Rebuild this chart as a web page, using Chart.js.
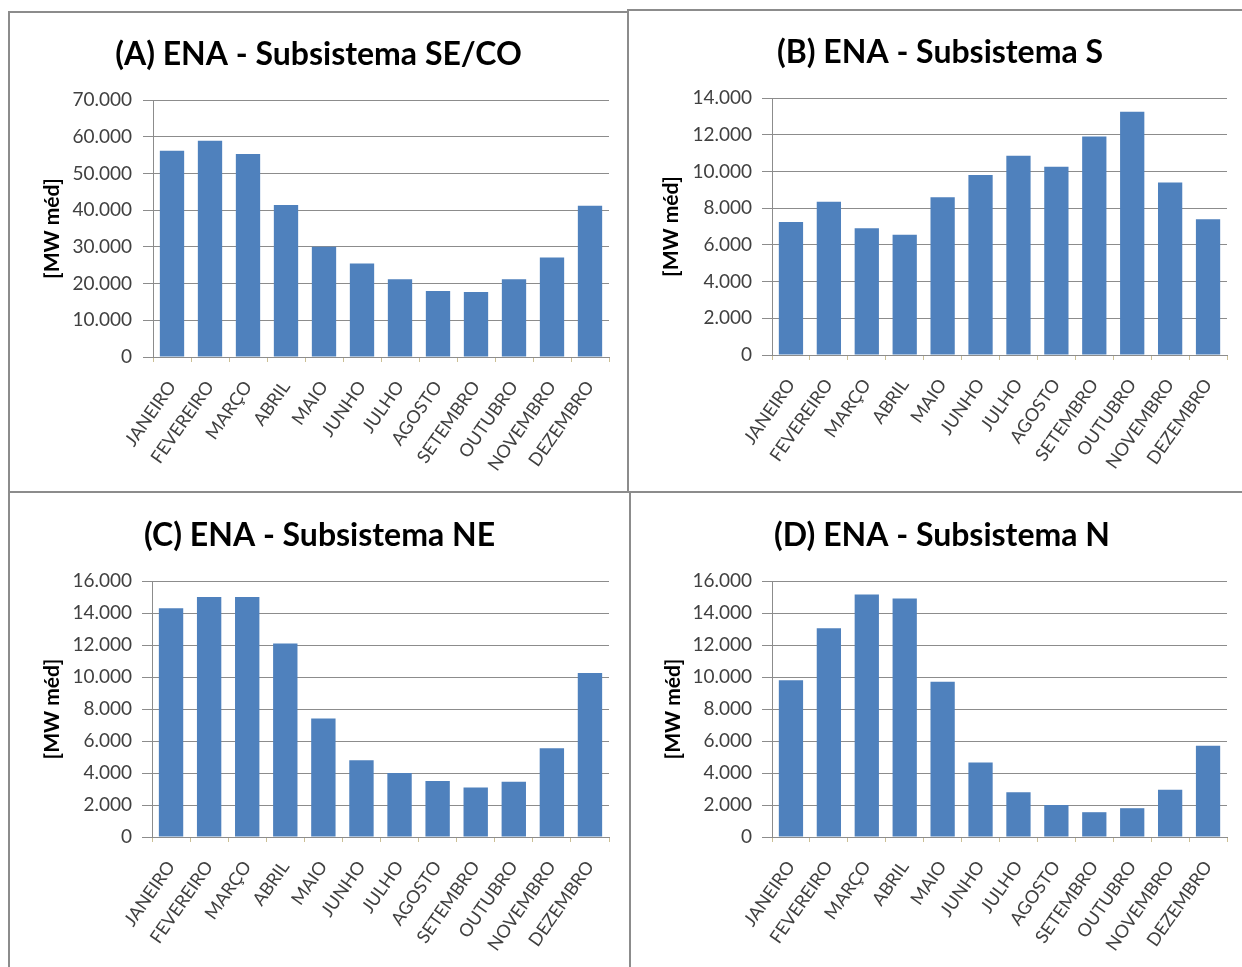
<!DOCTYPE html>
<html>
<head>
<meta charset="utf-8">
<script src="https://cdn.jsdelivr.net/npm/chart.js@4/dist/chart.umd.min.js"></script>
<style>
    html, body { margin: 0; padding: 0; background: #fff; overflow: hidden; }
    body { width: 1242px; height: 967px; position: relative; }
    canvas { position: absolute; }
    .line { position: absolute; background: #8c8c8c; }
</style>
</head>
<body>
<!-- panel frames -->
<div class="line" style="left:8px; top:11px; width:620px; height:2px;"></div>
<div class="line" style="left:628px; top:9px; width:614px; height:2px;"></div>
<div class="line" style="left:8px; top:11px; width:2px; height:956px;"></div>
<div class="line" style="left:627px; top:9px; width:2px; height:483px;"></div>
<div class="line" style="left:8px; top:491px; width:1234px; height:2px;"></div>
<div class="line" style="left:629px; top:491px; width:2px; height:476px;"></div>

<canvas id="chartA" width="619" height="480" style="left:9px; top:12px;"></canvas>
<canvas id="chartB" width="622" height="482" style="left:629px; top:10px;"></canvas>
<canvas id="chartC" width="621" height="474" style="left:9px; top:493px;"></canvas>
<canvas id="chartD" width="622" height="474" style="left:631px; top:493px;"></canvas>

<script>
// Months (categories)
const months = ['JANEIRO', 'FEVEREIRO', 'MARÇO', 'ABRIL', 'MAIO', 'JUNHO',
    'JULHO', 'AGOSTO', 'SETEMBRO', 'OUTUBRO', 'NOVEMBRO', 'DEZEMBRO'];

// ENA per subsystem [MW méd]
const enaSECO = [56200, 58900, 55300, 41400, 30000, 25500, 21200, 18000, 17700, 21200, 27100, 41200];
const enaS = [7250, 8350, 6900, 6550, 8600, 9800, 10850, 10250, 11900, 13250, 9400, 7400];
const enaNE = [14300, 15000, 15000, 12100, 7400, 4800, 4000, 3500, 3100, 3450, 5550, 10250];
const enaN = [9800, 13050, 15150, 14900, 9700, 4650, 2800, 2000, 1550, 1800, 2950, 5700];

// Panel titles and y axis ranges (max, step)
const panelTitles = ['(A) ENA - Subsistema SE/CO', '(B) ENA - Subsistema S',
    '(C) ENA - Subsistema NE', '(D) ENA - Subsistema N'];
const axisMax = [70000, 14000, 16000, 16000];
const axisStep = [10000, 2000, 2000, 2000];
const yAxisTitle = '[MW méd]';

const BAR_COLOR = '#4F81BD';
const GRID_COLOR = '#8c8c8c';
const TEXT_COLOR = '#404040';
const TITLE_SIZE = 32;
const YTITLE_SIZE = 21;

Chart.defaults.font.family = 'Lato, "Open Sans", sans-serif';

function formatThousands(v) {
    return String(v).replace(/\B(?=(\d{3})+(?!\d))/g, '.');
}

// geo: plot box inside the canvas and where text goes
function makePanel(id, title, values, max, step, geo) {
    const canvas = document.getElementById(id);
    if (!canvas) {
        console.error('Canvas not found:', id);
        return null;
    }
    const titleLine = TITLE_SIZE * 1.2;
    const titleTop = geo.titleY - titleLine / 2;
    // same padding on both sides so the title stays centred on the canvas
    const side = canvas.width - geo.right;

    return new Chart(canvas.getContext('2d'), {
        type: 'bar',
        data: {
            labels: months,
            datasets: [{
                data: values,
                backgroundColor: BAR_COLOR,
                borderWidth: 0,
                barPercentage: 0.64,
                categoryPercentage: 1.0
            }]
        },
        options: {
            responsive: false,
            animation: false,
            layout: {
                padding: { left: side, top: 0, bottom: 0, right: side }
            },
            plugins: {
                legend: { display: false },
                tooltip: { enabled: false },
                title: {
                    display: true,
                    text: title,
                    color: '#000',
                    font: { size: TITLE_SIZE, weight: 'bold' },
                    padding: { top: titleTop, bottom: geo.top - titleTop - titleLine }
                }
            },
            scales: {
                x: {
                    offset: true,
                    grid: {
                        display: true,
                        drawOnChartArea: false,
                        drawTicks: true,
                        tickLength: 5,
                        color: '#cbbf95'
                    },
                    border: { display: true, color: GRID_COLOR },
                    ticks: {
                        autoSkip: false,
                        minRotation: 55,
                        maxRotation: 55,
                        padding: 15,
                        color: TEXT_COLOR,
                        font: { size: 18 }
                    },
                    afterFit(scale) {
                        scale.height = canvas.height - geo.bottom;
                    }
                },
                y: {
                    min: 0,
                    max: max,
                    grid: {
                        color: GRID_COLOR,
                        tickLength: 10
                    },
                    border: { display: true, color: GRID_COLOR },
                    ticks: {
                        stepSize: step,
                        padding: geo.left - 10 - geo.labelRight,
                        color: TEXT_COLOR,
                        font: { size: 19 },
                        callback: (v) => formatThousands(v)
                    },
                    title: {
                        display: true,
                        text: yAxisTitle,
                        color: '#000',
                        font: { size: YTITLE_SIZE, weight: 'bold' },
                        padding: { top: geo.yTitleX - side - YTITLE_SIZE * 1.2 / 2, bottom: 0 }
                    },
                    afterFit(scale) {
                        scale.width = geo.left - side;
                    }
                }
            }
        }
    });
}

function init() {
    try {
        makePanel('chartA', panelTitles[0], enaSECO, axisMax[0], axisStep[0],
            { left: 144, right: 600, top: 88, bottom: 345, titleY: 43, yTitleX: 43, labelRight: 123 });
        makePanel('chartB', panelTitles[1], enaS, axisMax[1], axisStep[1],
            { left: 143, right: 598, top: 88, bottom: 345, titleY: 43, yTitleX: 42, labelRight: 123 });
        makePanel('chartC', panelTitles[2], enaNE, axisMax[2], axisStep[2],
            { left: 143, right: 600, top: 88, bottom: 344, titleY: 43, yTitleX: 43, labelRight: 123 });
        makePanel('chartD', panelTitles[3], enaN, axisMax[3], axisStep[3],
            { left: 141, right: 596, top: 88, bottom: 344, titleY: 43, yTitleX: 42, labelRight: 121 });
    } catch (error) {
        console.error('Error building ENA charts:', error);
    }
}

// make sure the installed font is used on the first draw
Promise.all([
    document.fonts.load('bold 32px Lato'),
    document.fonts.load('18px Lato')
]).then(init, init);
</script>
</body>
</html>
